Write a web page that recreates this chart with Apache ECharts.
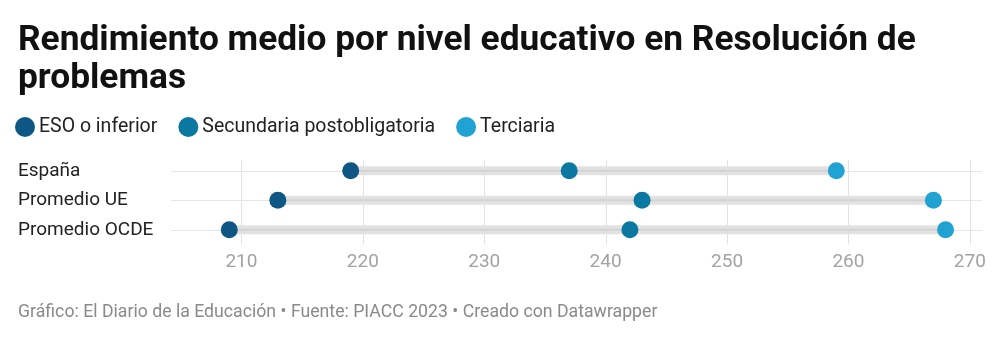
<!DOCTYPE html>
<html>
<head>
<meta charset="utf-8">
<script src="https://cdn.jsdelivr.net/npm/echarts@6/dist/echarts.min.js"></script>
<style>
  html, body { margin: 0; padding: 0; background: #ffffff; }
  #chart { width: 1000px; height: 342px; }
</style>
</head>
<body>
<div id="chart"></div>
<script>
// Rows of the dumbbell chart and the score for each education level
const categories = ['España', 'Promedio UE', 'Promedio OCDE'];
const esoInferior = [219, 213, 209];
const secundariaPost = [237, 243, 242];
const terciaria = [259, 267, 268];
const tickValues = [210, 220, 230, 240, 250, 260, 270];

const seriesNames = ['ESO o inferior', 'Secundaria postobligatoria', 'Terciaria'];
const colors = ['#0e5683', '#0b78a2', '#20a3d3'];

const FONT = 'Roboto, "Noto Sans", sans-serif';

// Extent of each row: from the lowest to the highest level
const ranges = categories.map((c, i) => {
  const vals = [esoInferior[i], secundariaPost[i], terciaria[i]];
  return [i, Math.min(...vals), Math.max(...vals)];
});

const chart = echarts.init(document.getElementById('chart'), null, { renderer: 'canvas' });

chart.setOption({
  backgroundColor: '#ffffff',
  animation: false,
  textStyle: { fontFamily: FONT },
  title: [
    {
      text: 'Rendimiento medio por nivel educativo en Resolución de\nproblemas',
      left: 13, top: 17,
      textStyle: { fontFamily: FONT, fontSize: 35.3, fontWeight: 'bold', color: '#111111', lineHeight: 38 }
    },
    {
      text: 'Gráfico: El Diario de la Educación • Fuente: PIACC 2023 • Creado con Datawrapper',
      left: 13, top: 298,
      textStyle: { fontFamily: FONT, fontSize: 17.7, fontWeight: 'normal', color: '#8a8a8a', lineHeight: 20 }
    }
  ],
  legend: {
    left: 10, top: 112,
    icon: 'circle',
    itemWidth: 20, itemHeight: 20,
    itemGap: 21,
    data: seriesNames,
    textStyle: { fontFamily: FONT, fontSize: 19.5, color: '#222222', padding: [0, 0, 0, -1] }
  },
  grid: { left: 171, right: 18, top: 156, bottom: 97.5, containLabel: false },
  xAxis: {
    type: 'value',
    min: 204.2, max: 271,
    axisLine: { show: false },
    axisTick: { show: false, customValues: tickValues },
    axisLabel: {
      customValues: tickValues,
      fontFamily: FONT, fontSize: 19, color: '#a3a3a3', margin: 8
    },
    splitLine: { show: false }
  },
  yAxis: {
    type: 'category',
    data: categories,
    inverse: true,
    axisLine: { show: false },
    axisTick: { show: false },
    splitLine: { show: false },
    axisLabel: {
      align: 'left', margin: 153,
      fontFamily: FONT, fontSize: 19, color: '#222222'
    }
  },
  series: [
    {
      // grid lines: vertical at each tick value, horizontal through each row
      type: 'custom',
      silent: true,
      z: 1,
      data: [[0]],
      renderItem: function (params, api) {
        const cs = params.coordSys;
        const children = [];
        tickValues.forEach(v => {
          const x = Math.round(api.coord([v, 0])[0]) + 0.5;
          children.push({
            type: 'line',
            shape: { x1: x, y1: cs.y + 4, x2: x, y2: cs.y + cs.height },
            style: { stroke: '#e3e3e3', lineWidth: 1 }
          });
        });
        categories.forEach((c, i) => {
          const y = Math.round(api.coord([0, i])[1]) + 0.5;
          children.push({
            type: 'line',
            shape: { x1: cs.x, y1: y, x2: cs.x + cs.width, y2: y },
            style: { stroke: '#e6e6e6', lineWidth: 1 }
          });
        });
        return { type: 'group', children: children };
      }
    },
    {
      // grey connector between the lowest and highest level
      type: 'custom',
      silent: true,
      z: 2,
      data: ranges,
      encode: { x: [1, 2], y: 0 },
      renderItem: function (params, api) {
        const start = api.coord([api.value(1), api.value(0)]);
        const end = api.coord([api.value(2), api.value(0)]);
        const h = 9;
        return {
          type: 'group',
          children: [
            {
              type: 'rect',
              shape: { x: start[0], y: start[1] - h / 2, width: end[0] - start[0], height: h },
              style: { fill: '#e2e2e2' }
            },
            {
              type: 'rect',
              shape: { x: start[0], y: start[1] - 1, width: end[0] - start[0], height: 2 },
              style: { fill: '#d3d3d3' }
            }
          ]
        };
      }
    },
    {
      name: seriesNames[0], type: 'scatter', z: 5,
      symbolSize: 17, itemStyle: { color: colors[0], opacity: 1 },
      data: esoInferior.map((v, i) => [v, i])
    },
    {
      name: seriesNames[1], type: 'scatter', z: 5,
      symbolSize: 17, itemStyle: { color: colors[1], opacity: 1 },
      data: secundariaPost.map((v, i) => [v, i])
    },
    {
      name: seriesNames[2], type: 'scatter', z: 5,
      symbolSize: 17, itemStyle: { color: colors[2], opacity: 1 },
      data: terciaria.map((v, i) => [v, i])
    }
  ]
});
</script>
</body>
</html>
